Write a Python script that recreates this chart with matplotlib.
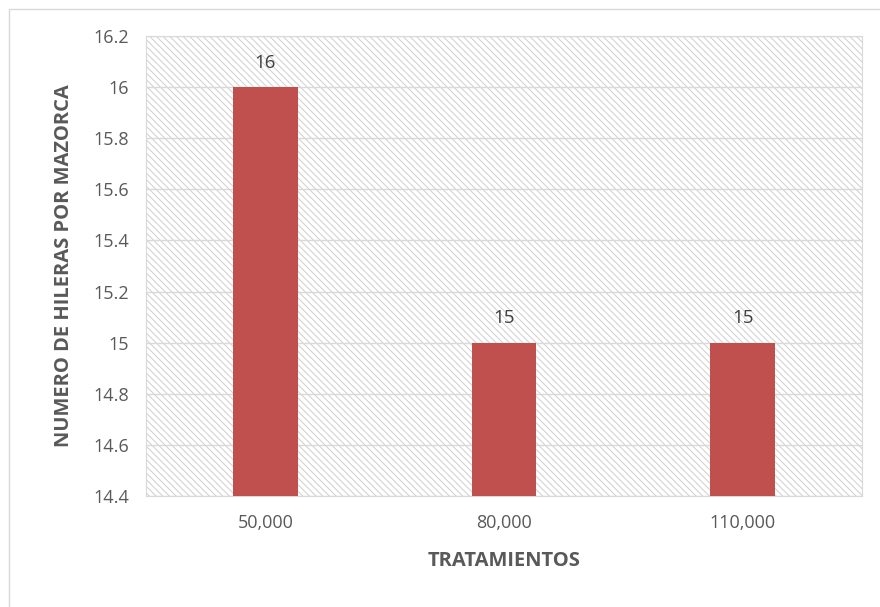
import matplotlib.pyplot as plt
from matplotlib.patches import Rectangle

categorias = ["50,000", "80,000", "110,000"]
valores = [16, 15, 15]
etiquetas = ["16", "15", "15"]

plt.rcParams['font.family'] = ['Open Sans', 'DejaVu Sans']
plt.rcParams['hatch.color'] = '#c4c4c4'
plt.rcParams['hatch.linewidth'] = 0.7

fig = plt.figure(figsize=(8.8, 6.07), dpi=100)
fig.patches.append(Rectangle((9 / 880, -0.1), 1.2, 1 - 9 / 607 + 0.1, transform=fig.transFigure,
                             fill=False, edgecolor='#d9d9d9', linewidth=1))
ax = fig.add_axes([146 / 880, 1 - 496 / 607, 716 / 880, 460 / 607])

# fondo rayado del area de trazado
ax.add_patch(Rectangle((0, 0), 1, 1, transform=ax.transAxes, facecolor='white',
                       hatch='\\\\\\\\\\', edgecolor='#cfcfcf', linewidth=0, zorder=0))

x = list(range(len(categorias)))
bars = ax.bar(x, valores, width=0.27, color='#C0504D', zorder=3)
ax.set_xlim(-0.5, 2.5)
ax.set_ylim(14.4, 16.2)

yt = [14.4 + 0.2 * i for i in range(10)]
ax.set_yticks(yt)
ax.set_yticklabels([('%.1f' % v).rstrip('0').rstrip('.') for v in yt], color='#595959', fontsize=13)
ax.set_xticks(x)
ax.set_xticklabels(categorias, color='#595959', fontsize=13)
ax.tick_params(axis='y', length=0, pad=12)
ax.tick_params(axis='x', length=0, pad=13)
ax.grid(axis='y', color='#d9d9d9', linewidth=1, zorder=1)
ax.grid(axis='x', visible=False)
for s in ax.spines.values():
    s.set_color('#d9d9d9')

for xi, v, t in zip(x, valores, etiquetas):
    ax.text(xi, v + 0.06, t, ha='center', va='bottom', fontsize=13.5, color='#404040')

ax.set_xlabel('TRATAMIENTOS', fontsize=14.5, fontweight='bold', color='#595959', labelpad=14)
ax.set_ylabel('NUMERO DE HILERAS POR MAZORCA', fontsize=14.5, fontweight='bold', color='#595959', labelpad=14)

fig.savefig('out.png', dpi=100)
